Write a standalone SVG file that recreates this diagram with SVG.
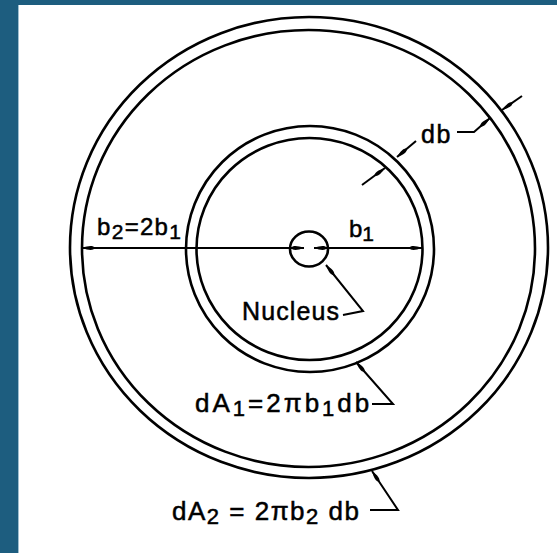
<svg xmlns="http://www.w3.org/2000/svg" width="557" height="553" viewBox="0 0 557 553">
<style>
.ring{fill:none;stroke:#000;stroke-width:2.6}
.ln{fill:none;stroke:#000;stroke-width:2}
.lbl{font-family:"Liberation Sans",Arial,sans-serif;font-size:26px;fill:#000;stroke:#000;stroke-width:0.5}
.sub{font-size:22px}
.sm{font-size:24px}
.sm .sub{font-size:21px}
</style>
<defs>
<marker id="ah" viewBox="0 0 13 6" refX="13" refY="3" markerWidth="13" markerHeight="6" markerUnits="userSpaceOnUse" orient="auto-start-reverse">
<path d="M0,3 C2,0.3 6,0.6 13,3 C6,5.4 2,5.7 0,3 z" fill="#000"/>
</marker>
</defs>
<rect x="0" y="0" width="557" height="553" fill="#fff"/>
<rect x="0" y="0" width="557" height="5" fill="#1d5d7f"/>
<rect x="0" y="0" width="18" height="553" fill="#1d5d7f"/>
<rect x="18" y="5" width="1" height="548" fill="#9fbfd0"/>
<g id="outer-ring">
<ellipse class="ring" cx="309" cy="247.5" rx="239" ry="230.5"/>
<ellipse class="ring" cx="308.5" cy="248.5" rx="226.5" ry="218.5"/>
</g>
<g id="inner-ring">
<ellipse class="ring" cx="310" cy="249" rx="124" ry="123"/>
<ellipse class="ring" cx="309.5" cy="249" rx="113" ry="111"/>
</g>
<g id="nucleus">
<ellipse class="ring" cx="309" cy="249" rx="19" ry="17.5"/>
</g>
<g id="connectors">
<path class="ln" d="M82,248 L304,248" marker-start="url(#ah)" marker-end="url(#ah)"/>
<path class="ln" d="M314,248 L422,248" marker-start="url(#ah)" marker-end="url(#ah)"/>
<path class="ln" d="M416,141 L397,157" marker-end="url(#ah)"/>
<path class="ln" d="M362,185 L385,168" marker-end="url(#ah)"/>
<path class="ln" d="M457,132 L474,132 L490,118" marker-end="url(#ah)"/>
<path class="ln" d="M522,96 L502,110" marker-end="url(#ah)"/>
<path class="ln" d="M343,315 L363,311 L326,265" marker-end="url(#ah)"/>
<path class="ln" d="M372,404 L393,404 L356,362" marker-end="url(#ah)"/>
<path class="ln" d="M370,510 L398,510 L372,471" marker-end="url(#ah)"/>
</g>
<g id="labels">
<text class="lbl sm" x="97" y="235" letter-spacing="1.3">b<tspan class="sub" dy="4">2</tspan><tspan dy="-4">=2b</tspan><tspan class="sub" dy="4">1</tspan></text>
<text class="lbl sm" x="349" y="237">b<tspan class="sub" dy="4">1</tspan></text>
<text class="lbl" x="421" y="143" style="font-size:25px" letter-spacing="1.5">db</text>
<text class="lbl" x="242" y="320" style="font-size:25px" letter-spacing="1.1">Nucleus</text>
<text class="lbl" x="195" y="412" letter-spacing="3">dA<tspan class="sub" dy="4">1</tspan><tspan dy="-4">=2πb</tspan><tspan class="sub" dy="4">1</tspan><tspan dy="-4">db</tspan></text>
<text class="lbl" x="172" y="520" letter-spacing="1.5">dA<tspan class="sub" dy="4">2</tspan><tspan dy="-4"> = 2πb</tspan><tspan class="sub" dy="4">2</tspan><tspan dy="-4"> db</tspan></text>
</g>
</svg>
